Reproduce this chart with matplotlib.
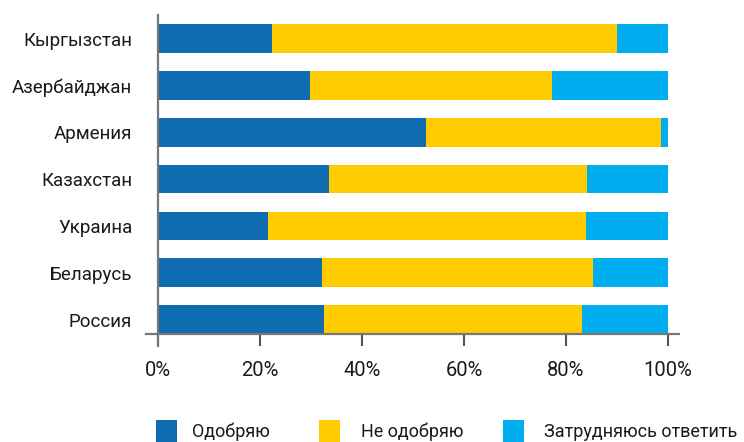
import matplotlib
matplotlib.use("Agg")
import matplotlib.pyplot as plt
from matplotlib.patches import Rectangle
from matplotlib.lines import Line2D

plt.rcParams['font.family'] = ['Roboto', 'DejaVu Sans']

countries = ["Россия", "Беларусь", "Украина", "Казахстан", "Армения", "Азербайджан", "Кыргызстан"]
approve = [32.5, 32.2, 21.6, 33.5, 52.5, 29.8, 22.4]
disapprove = [50.6, 53.1, 62.3, 50.6, 46.1, 47.5, 67.6]
hard_to_say = [16.9, 14.7, 16.1, 15.9, 1.4, 22.7, 10.0]
series_names = ["Одобряю", "Не одобряю", "Затрудняюсь ответить"]
colors = ["#0F6CB0", "#FFCC00", "#00AEEF"]
xticks = [0, 20, 40, 60, 80, 100]
xtick_labels = ["0%", "20%", "40%", "60%", "80%", "100%"]

W, H = 744, 442
fig = plt.figure(figsize=(W / 100, H / 100), dpi=100)
L, R, T, B = 158, 679, 15, 334
ax = fig.add_axes([L / W, 1 - B / H, (R - L) / W, (B - T) / H])

y = list(range(len(countries)))
bh = 0.614
left = [0] * len(countries)
for vals, c in zip([approve, disapprove, hard_to_say], colors):
    ax.barh(y, vals, left=left, height=bh, color=c, linewidth=0)
    left = [a + b for a, b in zip(left, vals)]

ax.set_xlim(0, 100 * (R - L) / 510)
ax.set_ylim(-0.307, 6.503)
for s in ax.spines.values():
    s.set_visible(False)

# extended spines
spc = "#777777"
ax.add_line(Line2D([0, 0], [-12 / (B - T), 1], transform=ax.transAxes, color=spc, lw=1.6, clip_on=False))
ax.add_line(Line2D([-12 / (R - L), 1], [0, 0], transform=ax.transAxes, color=spc, lw=1.6, clip_on=False))

ax.set_yticks(y)
ax.set_yticklabels(countries, fontsize=13.5, color="#1a1a1a")
ax.tick_params(axis='y', length=0, pad=18.5)
ax.set_xticks(xticks)
ax.set_xticklabels(xtick_labels, fontsize=14.5, color="#1a1a1a")
ax.tick_params(axis='x', length=8.5, width=1.5, color="#555555", pad=11)

# legend
leg_x = [156, 319, 503]
txt_x = [192, 361, 544]
for lx, tx, name, c in zip(leg_x, txt_x, series_names, colors):
    fig.patches.append(Rectangle((lx / W, 1 - 442 / H), 21 / W, 22 / H, transform=fig.transFigure,
                                 color=c, linewidth=0))
    fig.text(tx / W, 1 - 432 / H, name, fontsize=13, color="#1a1a1a", va='center', ha='left')

fig.savefig("out.png", dpi=100)
